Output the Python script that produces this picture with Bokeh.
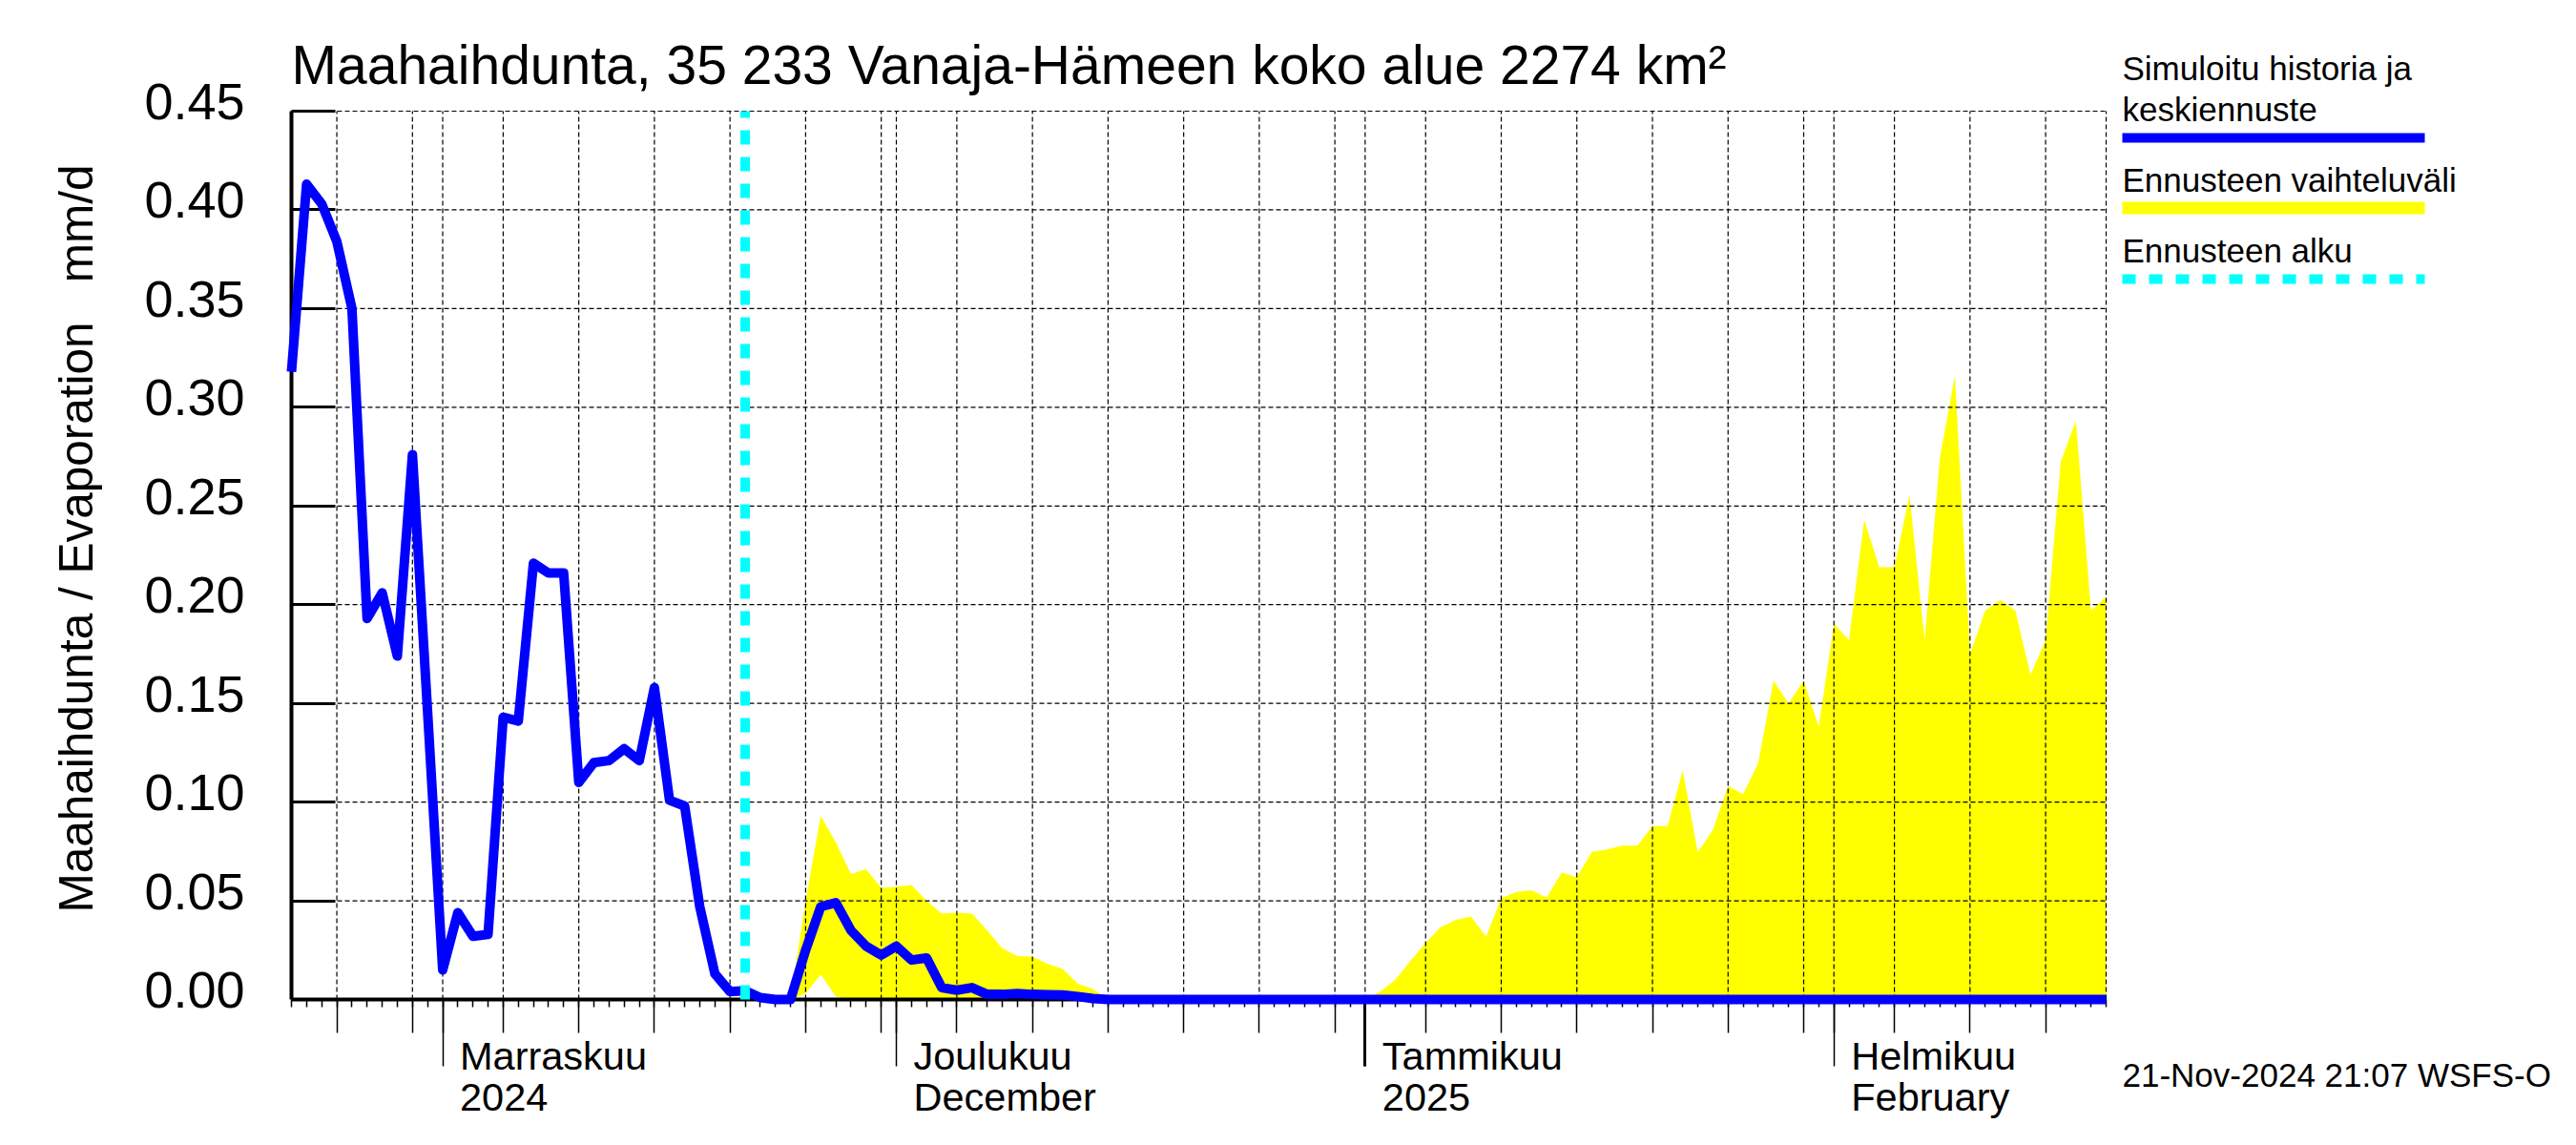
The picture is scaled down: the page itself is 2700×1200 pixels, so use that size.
import numpy as np
import pandas as pd
from bokeh.plotting import figure
from bokeh.models import (Range1d, FixedTicker, DatetimeAxis, LinearAxis, Label,
                          NumeralTickFormatter, BoxAnnotation, Arrow)
from bokeh.core.properties import value
from bokeh.embed import file_html
from bokeh.resources import INLINE

FONT = "Liberation Sans"
BLUE = "#0000FF"
YELLOW = "#FFFF00"
CYAN = "#00FFFF"

# ---------------- data ----------------
title_text = "Maahaihdunta, 35 233 Vanaja-Hämeen koko alue 2274 km²"
y_label = "Maahaihdunta / Evaporation \u00a0 mm/d"
footer_text = "21-Nov-2024 21:07 WSFS-O"

x_start = "2024-10-22"
x_end = "2025-02-19"
forecast_start = "2024-11-21"

# daily simulated history + mean forecast, starting 2024-10-22
sim_start = "2024-10-22"
simulated = [
    0.318, 0.413, 0.403, 0.384, 0.350, 0.193, 0.206, 0.174, 0.276, 0.146,
    0.015, 0.044, 0.032, 0.033, 0.143, 0.141, 0.221, 0.216, 0.216, 0.110,
    0.120, 0.121, 0.127, 0.121, 0.158, 0.101, 0.098, 0.047, 0.013, 0.004,
    0.0045, 0.001, 0.0, 0.0, 0.025, 0.047, 0.049, 0.035, 0.027, 0.0225,
    0.027, 0.020, 0.021, 0.006, 0.0047, 0.006, 0.0026, 0.0026, 0.003, 0.0026,
    0.0024, 0.0023, 0.0015, 0.0005, 0.0, 0.0, 0.0, 0.0, 0.0, 0.0,
    0.0, 0.0, 0.0, 0.0, 0.0, 0.0, 0.0, 0.0, 0.0, 0.0,
    0.0, 0.0, 0.0, 0.0, 0.0, 0.0, 0.0, 0.0, 0.0, 0.0,
    0.0, 0.0, 0.0, 0.0, 0.0, 0.0, 0.0, 0.0, 0.0, 0.0,
    0.0, 0.0, 0.0, 0.0, 0.0, 0.0, 0.0, 0.0, 0.0, 0.0,
    0.0, 0.0, 0.0, 0.0, 0.0, 0.0, 0.0, 0.0, 0.0, 0.0,
    0.0, 0.0, 0.0, 0.0, 0.0, 0.0, 0.0, 0.0, 0.0, 0.0,
    0.0,
]

# forecast range (min / max), daily, starting 2024-11-24
band_start = "2024-11-24"
band_lower = [
    0.0, 0.003, 0.0126, 0.0015, 0.0, 0.0, 0.0, 0.0, 0.0, 0.0,
    0.0, 0.0, 0.0, 0.0, 0.0, 0.0, 0.0, 0.0, 0.0, 0.0,
    0.0, 0.0, 0.0, 0.0, 0.0, 0.0, 0.0, 0.0, 0.0, 0.0,
    0.0, 0.0, 0.0, 0.0, 0.0, 0.0, 0.0, 0.0, 0.0, 0.0,
    0.0, 0.0, 0.0, 0.0, 0.0, 0.0, 0.0, 0.0, 0.0, 0.0,
    0.0, 0.0, 0.0, 0.0, 0.0, 0.0, 0.0, 0.0, 0.0, 0.0,
    0.0, 0.0, 0.0, 0.0, 0.0, 0.0, 0.0, 0.0, 0.0, 0.0,
    0.0, 0.0, 0.0, 0.0, 0.0, 0.0, 0.0, 0.0, 0.0, 0.0,
    0.0, 0.0, 0.0, 0.0, 0.0, 0.0, 0.0, 0.0,
]
band_upper = [
    0.0, 0.050, 0.093, 0.0795, 0.0636, 0.066, 0.0565, 0.057, 0.058, 0.050,
    0.0435, 0.044, 0.0435, 0.035, 0.026, 0.022, 0.0217, 0.018, 0.0155, 0.008,
    0.0053, 0.0, 0.0, 0.0, 0.0, 0.0, 0.0, 0.0, 0.0, 0.0,
    0.0, 0.0, 0.0, 0.0, 0.0, 0.0, 0.0, 0.0,
    0.0, 0.004, 0.010, 0.0196, 0.0286, 0.0367, 0.0404, 0.042, 0.0318, 0.0513,
    0.0545, 0.0554, 0.0516, 0.0643, 0.062, 0.0748, 0.076, 0.078, 0.078, 0.0878,
    0.0878, 0.116, 0.0745, 0.086, 0.108, 0.104, 0.120, 0.1615, 0.150, 0.1615,
    0.138, 0.1905, 0.182, 0.243, 0.219, 0.219, 0.2556, 0.182, 0.274, 0.316,
    0.175, 0.197, 0.2024, 0.197, 0.1645, 0.182, 0.2725, 0.293, 0.197, 0.204,
]

y_ticks = [0.0, 0.05, 0.10, 0.15, 0.20, 0.25, 0.30, 0.35, 0.40, 0.45]
month_starts = ["2024-11-01", "2024-12-01", "2025-01-01", "2025-02-01"]
month_line1 = ["Marraskuu", "Joulukuu", "Tammikuu", "Helmikuu"]
month_line2 = ["2024", "December", "2025", "February"]
year_start = ["2025-01-01"]
grid_days = [1, 5, 10, 15, 20, 25, 30]

legend_texts = ["Simuloitu historia ja", "keskiennuste", "Ennusteen vaihteluväli", "Ennusteen alku"]


def ms(d):
    return pd.Timestamp(d).value / 1e6


sim_dates = pd.date_range(sim_start, periods=len(simulated), freq="D")
band_dates = pd.date_range(band_start, periods=len(band_upper), freq="D")
all_days = pd.date_range(x_start, x_end, freq="D")
daily_ms = [ms(d) for d in all_days]
grid_ms = [ms(d) for d in all_days if d.day in grid_days]
month_ms = [ms(d) for d in month_starts]

# ---------------- layout (page pixels) ----------------
W, H = 2684, 1184            # figure size
PL, PT = 0, 0                # page offset of figure (template has no body margin)
FL, FR, FT, FB = 305, 2207, 116, 1047   # data area on the page
TICK_LABEL_RAISE = 10        # tick labels sit slightly above their ticks
YLABEL_CENTER = 564          # page y of the centre of the y-axis title


def sx(px):   # page x -> screen x (from canvas left)
    return px - PL


def sy(py):   # page y -> screen y (from canvas bottom)
    return (PT + H) - py


def text_anchor(baseline, size):   # labels are anchored on the middle of the text
    return baseline - 0.35 * size


y0, y1 = 0.0, 0.45
x0, x1 = ms(x_start), ms(x_end)
ms_per_px = (x1 - x0) / (FR - FL)
v_per_px = (y1 - y0) / (FB - FT)
x_range = Range1d(x0 - (FL - PL) * ms_per_px, x1 + (PL + W - FR) * ms_per_px)
y_range = Range1d(y0 - (PT + H - FB) * v_per_px, y1 + (FT - PT) * v_per_px)

p = figure(
    width=W, height=H, title=None,
    x_axis_type="datetime", x_range=x_range, y_range=y_range,
    output_backend="svg", toolbar_location=None, min_border=0,
)
p.background_fill_color = "white"
p.border_fill_color = "white"
p.outline_line_color = None
p.xgrid.visible = False
p.ygrid.visible = False

# ---- y axis line + inward ticks at the left edge of the data area ----
ya = p.yaxis[0]
ya.fixed_location = x0
ya.bounds = (y0, y1)
ya.ticker = FixedTicker(ticks=y_ticks)
ya.major_tick_in = 46
ya.major_tick_out = 0
ya.minor_tick_in = 0
ya.minor_tick_out = 0
ya.major_tick_line_width = 3
ya.major_tick_line_color = "black"
ya.axis_line_width = 4
ya.axis_line_color = "black"
ya.major_label_text_color = None

# ---- y tick labels and axis title (same axis location) ----
raise_v = TICK_LABEL_RAISE * v_per_px
center_v = (FB - YLABEL_CENTER) * v_per_px
ylab = LinearAxis(
    fixed_location=x0,
    ticker=FixedTicker(ticks=[t + raise_v for t in y_ticks]),
    formatter=NumeralTickFormatter(format="0.00"),
    bounds=(y0, 2 * center_v - y0),
)
ylab.axis_line_color = None
ylab.major_tick_line_color = None
ylab.minor_tick_line_color = None
ylab.major_tick_in = 0
ylab.major_tick_out = 0
ylab.minor_tick_in = 0
ylab.minor_tick_out = 0
ylab.major_label_text_font = FONT
ylab.major_label_text_font_size = "54px"
ylab.major_label_text_color = "black"
ylab.major_label_standoff = 49
ylab.axis_label = y_label
ylab.axis_label_text_font = FONT
ylab.axis_label_text_font_size = "49.5px"
ylab.axis_label_text_font_style = "normal"
ylab.axis_label_text_color = "black"
ylab.axis_label_standoff = 41
p.add_layout(ylab, "left")

# ---- x axis at y = 0 : daily + 5-day ticks ----
xa = p.xaxis[0]
xa.fixed_location = y0
xa.bounds = (x0, x1)
xa.ticker = FixedTicker(ticks=grid_ms, minor_ticks=daily_ms)
xa.major_tick_out = 35
xa.major_tick_in = 0
xa.minor_tick_out = 8
xa.minor_tick_in = 0
xa.major_tick_line_width = 1.5
xa.minor_tick_line_width = 1.5
xa.major_tick_line_color = "black"
xa.minor_tick_line_color = "black"
xa.axis_line_width = 4
xa.axis_line_color = "black"
xa.major_label_text_color = None

# ---- month ticks (longer), year tick (thicker) ----
for ticks, lw in ((month_ms, 1.5), ([ms(d) for d in year_start], 3)):
    ax = DatetimeAxis(ticker=FixedTicker(ticks=ticks), fixed_location=y0, bounds=(x0, x1))
    ax.major_tick_out = 70
    ax.major_tick_in = 0
    ax.minor_tick_out = 0
    ax.minor_tick_in = 0
    ax.major_tick_line_width = lw
    ax.major_tick_line_color = "black"
    ax.axis_line_color = None
    ax.major_label_text_color = None
    p.add_layout(ax, "below")

# ---- forecast range, grid, series ----
p.varea(x=band_dates, y1=band_lower, y2=band_upper, fill_color=YELLOW)

grid_x = grid_ms + [x1]
grid_y = y_ticks[1:]
p.segment(x0=grid_x, y0=y0, x1=grid_x, y1=y1, line_color="black", line_width=1.2, line_dash="5 3")
p.segment(x0=x0, y0=grid_y, x1=x1, y1=grid_y, line_color="black", line_width=1.2, line_dash="5 3")

p.line(x=sim_dates, y=simulated, line_color=BLUE, line_width=10, line_join="round", level="overlay")
p.line(x=[pd.Timestamp(forecast_start)] * 2, y=[y0, y1], line_color=CYAN, line_width=10,
       line_dash="15 13", level="overlay")


# ---- texts ----
def add_text(x, baseline, text, size, x_units="screen", x_offset=0):
    p.add_layout(Label(
        x=x, y=sy(text_anchor(baseline, size)), x_units=x_units, y_units="screen",
        x_offset=x_offset, text=text,
        text_font=FONT, text_font_size=f"{size}px", text_color="black",
        text_baseline="middle", text_align="left",
    ))


add_text(sx(305), 87, title_text, 57)

for m, l1, l2 in zip(month_starts, month_line1, month_line2):
    add_text(ms(m), 1121, l1, 41.5, x_units="data", x_offset=18)
    add_text(ms(m), 1164, l2, 41.5, x_units="data", x_offset=18)

LEG_X = 2224
for txt, base in zip(legend_texts, [83, 126, 200, 274]):
    add_text(sx(LEG_X), base, txt, 35)
add_text(sx(LEG_X), 1138, footer_text, 35)

# ---- legend swatches ----
p.add_layout(BoxAnnotation(left=sx(2224), right=sx(2541), top=sy(139), bottom=sy(149),
                           left_units="screen", right_units="screen", top_units="screen",
                           bottom_units="screen", fill_color=BLUE, fill_alpha=1.0, line_color=None))
p.add_layout(BoxAnnotation(left=sx(2224), right=sx(2541), top=sy(211), bottom=sy(224),
                           left_units="screen", right_units="screen", top_units="screen",
                           bottom_units="screen", fill_color=YELLOW, fill_alpha=1.0, line_color=None))
p.add_layout(Arrow(end=None, x_start=sx(2224), y_start=sy(292), x_end=sx(2541), y_end=sy(292),
                   start_units="screen", end_units="screen", line_color=CYAN, line_width=10,
                   line_dash="14 14"))

open("out.html", "w").write(file_html(p, INLINE))
